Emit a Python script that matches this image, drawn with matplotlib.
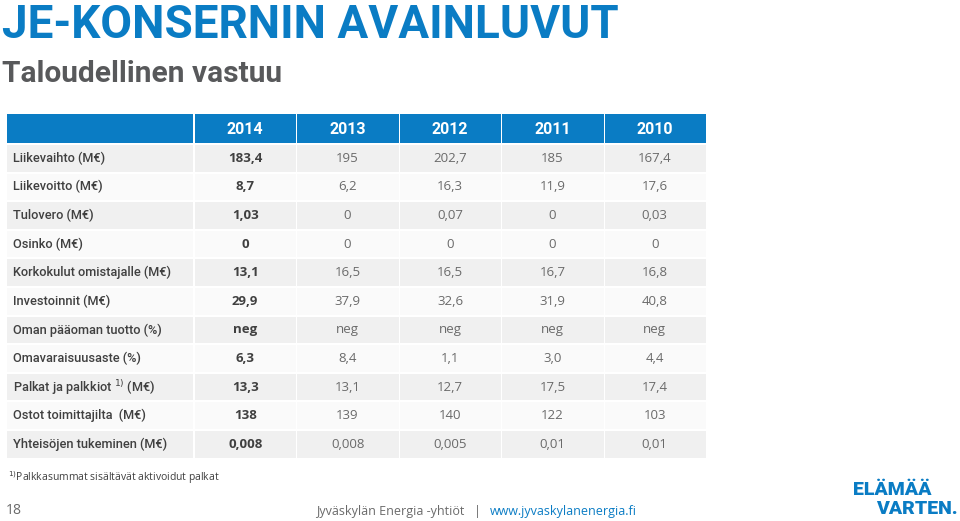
import matplotlib
matplotlib.use("Agg")
import matplotlib.pyplot as plt
from matplotlib.patches import Rectangle

years = ["2014", "2013", "2012", "2011", "2010"]
row_labels = [
    "Liikevaihto (M€)",
    "Liikevoitto (M€)",
    "Tulovero (M€)",
    "Osinko (M€)",
    "Korkokulut omistajalle (M€)",
    "Investoinnit (M€)",
    "Oman pääoman tuotto (%)",
    "Omavaraisuusaste (%)",
    "Palkat ja palkkiot $^{1)}$ (M€)",
    "Ostot toimittajilta  (M€)",
    "Yhteisöjen tukeminen (M€)",
]
v2014 = ["183,4", "8,7", "1,03", "0", "13,1", "29,9", "neg", "6,3", "13,3", "138", "0,008"]
v2013 = ["195", "6,2", "0", "0", "16,5", "37,9", "neg", "8,4", "13,1", "139", "0,008"]
v2012 = ["202,7", "16,3", "0,07", "0", "16,5", "32,6", "neg", "1,1", "12,7", "140", "0,005"]
v2011 = ["185", "11,9", "0", "0", "16,7", "31,9", "neg", "3,0", "17,5", "122", "0,01"]
v2010 = ["167,4", "17,6", "0,03", "0", "16,8", "40,8", "neg", "4,4", "17,4", "103", "0,01"]
columns = [v2014, v2013, v2012, v2011, v2010]

BLUE = "#0a7cc4"
GREY_TXT = "#6a6a6a"
DARK = "#404040"

fig = plt.figure(figsize=(9.6, 5.21), dpi=100)
ax = fig.add_axes([0, 0, 1, 1])
ax.set_xlim(0, 960)
ax.set_ylim(521, 0)
ax.axis("off")

# title block
ax.text(2, 38, "JE-KONSERNIN AVAINLUVUT", fontsize=33, fontweight="bold",
        color=BLUE, family=["Roboto"], va="baseline", ha="left")
ax.text(2, 82, "Taloudellinen vastuu", fontsize=21.5, fontweight="bold",
        color="#58595b", family=["Roboto"], va="baseline", ha="left")

# table geometry
x0, label_w, col_w = 7, 187, 102.4
head_top, head_h = 114, 29
row_top, row_h, gap = 145, 28.6, 2

ax.add_patch(Rectangle((x0, head_top), label_w - 1, head_h, color=BLUE, lw=0))
for j, yr in enumerate(years):
    cx = x0 + label_w + j * col_w
    ax.add_patch(Rectangle((cx + 1, head_top), col_w - 1, head_h, color=BLUE, lw=0))
    ax.text(cx + col_w / 2, head_top + head_h / 2 + 1, yr, color="white", fontsize=11.5,
            fontweight="bold", family=["Roboto"], ha="center", va="center")

for i, lab in enumerate(row_labels):
    top = row_top + i * row_h
    bg = "#f0f0f0" if i % 2 == 0 else "#fafafa"
    yc = top + (row_h - gap) / 2
    ax.add_patch(Rectangle((x0, top), label_w - 1, row_h - gap, color=bg, lw=0))
    ax.text(x0 + 6, yc, lab, fontsize=9.2, color=DARK, fontweight="medium",
            family=["Roboto"], ha="left", va="center")
    for j, col in enumerate(columns):
        cx = x0 + label_w + j * col_w
        ax.add_patch(Rectangle((cx + 1, top), col_w - 1, row_h - gap, color=bg, lw=0))
        bold = j == 0
        ax.text(cx + col_w / 2, yc, col[i], fontsize=9.5,
                color=DARK if bold else GREY_TXT,
                fontweight="bold" if bold else "normal",
                family=["Open Sans"], ha="center", va="center")

# footnote and footer
ax.text(8, 478, "$^{1)}$Palkkasummat sisältävät aktivoidut palkat", fontsize=7.5,
        color=DARK, family=["Open Sans"], ha="left", va="center")
ax.text(6, 511, "18", fontsize=10, color=GREY_TXT, family=["Open Sans"],
        ha="left", va="center")
ax.text(464, 511, "Jyväskylän Energia -yhtiöt", fontsize=9, color=GREY_TXT,
        family=["Open Sans"], ha="right", va="center")
ax.text(477, 511, "|", fontsize=9, color=GREY_TXT,
        family=["Open Sans"], ha="center", va="center")
ax.text(490, 511, "www.jyvaskylanenergia.fi", fontsize=9, color=BLUE,
        family=["Open Sans"], ha="left", va="center")

# logo
ax.text(932, 490, "ELÄMÄÄ", fontsize=14, fontweight="heavy", color=BLUE,
        family=["Roboto"], ha="right", va="center")
ax.text(958, 509, "VARTEN.", fontsize=14, fontweight="heavy", color=BLUE,
        family=["Roboto"], ha="right", va="center")

fig.savefig("out.png", dpi=100)
